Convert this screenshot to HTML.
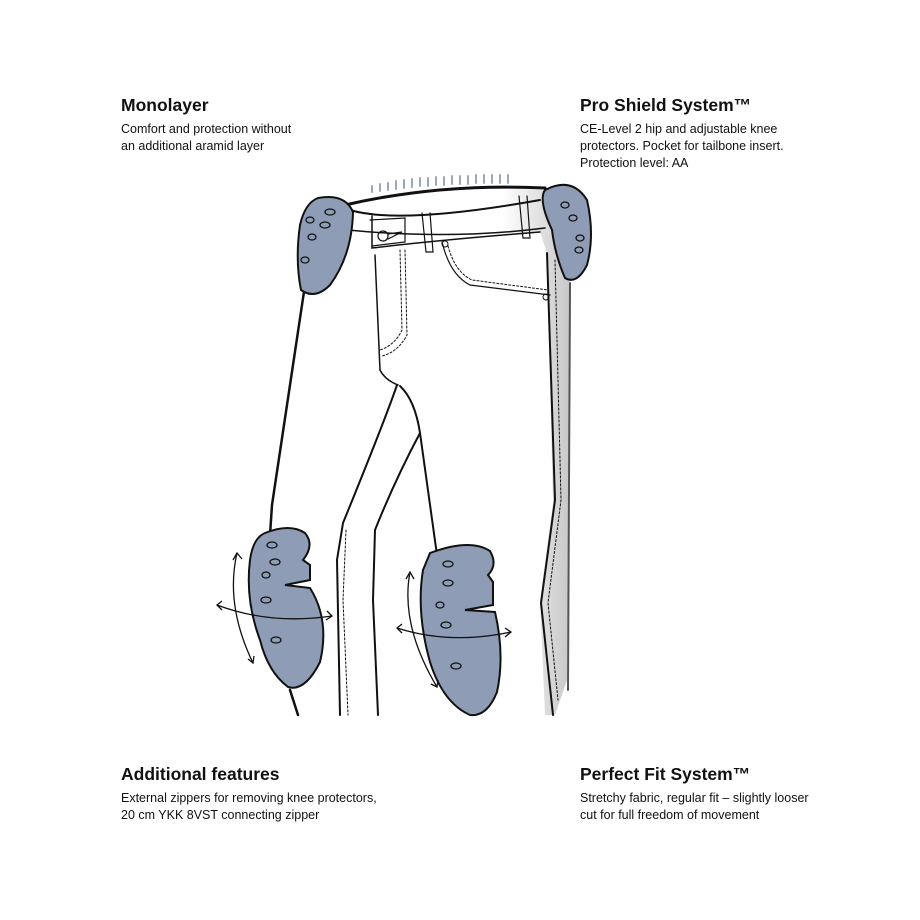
<!DOCTYPE html>
<html><head><meta charset="utf-8"><style>
html,body{margin:0;padding:0;background:#fff;}
body{width:920px;height:920px;position:relative;overflow:hidden;font-family:"Liberation Sans",sans-serif;color:#111;}
.t{position:absolute;}
.t h{display:block;font-weight:bold;font-size:17.5px;line-height:20px;}
.t p{margin:6px 0 0;font-size:12.5px;line-height:17px;}
svg{position:absolute;left:0;top:0;}
</style></head><body>
<svg width="920" height="920" viewBox="0 0 920 920">
<defs>
<linearGradient id="g" x1="0" x2="1"><stop offset="0" stop-color="#fff"/><stop offset="0.7" stop-color="#fff"/><stop offset="1" stop-color="#c8c8c8"/></linearGradient>
</defs>
<g stroke="#111" stroke-width="2" fill="none" stroke-linecap="round">
<g stroke="#9aa7bd" stroke-width="2">
<path d="M372 192v-6M380 191v-7M388 190v-7M396 189v-8M404 188v-8M412 187v-8M420 186v-8M428 186v-8M436 185v-8M444 185v-8M452 184v-8M460 184v-8M468 184v-8M476 183v-8M484 183v-8M492 183v-8M500 183v-8M508 183v-8"/>
</g>
<path d="M305 280 L272 505 L268 690 L295 715 L345 715 L340 600 L350 520 L398 390 Z" fill="#fff" stroke="none"/>
<path d="M345 205 Q440 185 545 190 L570 283 L567 680 L555 715 L545 715 L540 600 L553 503 L547 253 L540 232 Q450 238 372 250 L380 380 Q390 390 400 384 L420 433 L437 523 L440 715 L375 715 L373 540 L392 497 L400 385 Z" fill="url(#g)" stroke="none"/>
<path d="M345 205 Q440 183 545 188" stroke-width="3"/>
<path d="M350 210 Q400 225 540 200"/>
<path d="M348 230 Q450 240 545 228" stroke-width="1.5"/>
<path d="M372 216 L372 248 Q440 240 540 232" stroke-width="1.5"/>
<path d="M370 220 L405 218 L405 242 L372 246" stroke-width="1.2"/>
<circle cx="383" cy="236" r="5" stroke-width="1.2"/>
<path d="M388 234 L402 232 L388 239" stroke-width="1.2"/>
<path d="M422 213 L426 252 L433 252 L430 213" stroke-width="1.2"/>
<path d="M519 196 L523 238 L530 238 L527 196" stroke-width="1.2"/>
<path d="M442 242 Q450 275 470 285 L550 295" stroke-width="1.2"/>
<path d="M448 246 Q455 272 472 280 L548 290" stroke-width="1" stroke-dasharray="2 2"/>
<circle cx="445" cy="244" r="3" stroke-width="1"/>
<circle cx="546" cy="297" r="3" stroke-width="1"/>
<path d="M375 255 L380 370 Q385 380 398 385" stroke-width="1.5"/>
<path d="M400 250 L402 330 Q395 345 380 350" stroke-width="1" stroke-dasharray="2 2"/>
<path d="M405 250 L407 335 Q398 352 382 356" stroke-width="1" stroke-dasharray="2 2"/>
<path d="M397 385 Q385 420 343 523 L337 560 L340 715" stroke-width="2"/>
<path d="M400 386 Q415 400 420 433 L437 555" stroke-width="2"/>
<path d="M420 433 Q395 480 375 530 L373 600 L378 715" stroke-width="2"/>
<path d="M346 530 L343 600 L348 715" stroke-width="1" stroke-dasharray="2 2"/>
<path d="M305 285 L272 505 L270 535" stroke-width="2.5"/>
<path d="M290 690 L298 715" stroke-width="2.5"/>
<path d="M547 253 L555 500 L541 603 L553 715" stroke-width="2"/>
<path d="M555 260 L561 500 L548 603 L558 700" stroke-width="1" stroke-dasharray="2 2"/>
<path d="M570 283 L568 690" stroke-width="2" stroke="#555"/>
</g>
<g fill="#8e9db5" stroke="#111" stroke-width="2">
<path d="M318 198 Q345 193 353 212 Q352 255 330 285 Q315 300 301 290 Q295 260 300 225 Q305 203 318 198 Z"/>
<path d="M545 190 Q572 176 587 200 Q595 235 587 265 Q577 285 565 278 Q555 255 552 230 Q538 200 545 190 Z"/>
<path d="M265 533 Q290 523 305 533 Q315 545 303 560 L310 565 L310 580 L285 585 L310 588 Q330 620 320 662 Q305 692 288 687 Q268 672 260 640 Q245 600 250 560 Q253 538 265 533 Z"/>
<path d="M430 553 Q470 538 490 551 Q498 565 488 575 L493 582 L493 605 L465 610 L495 612 Q505 655 497 692 Q487 717 470 715 Q443 703 430 662 Q416 612 423 570 Z"/>
</g>
<g fill="none" stroke="#111" stroke-width="1.3">
<ellipse cx="330" cy="212" rx="5" ry="3"/><ellipse cx="325" cy="225" rx="5" ry="3"/><ellipse cx="310" cy="220" rx="4" ry="3"/><ellipse cx="305" cy="260" rx="4" ry="3"/><ellipse cx="312" cy="237" rx="4" ry="3"/>
<ellipse cx="565" cy="205" rx="4" ry="3"/><ellipse cx="573" cy="218" rx="4" ry="3"/><ellipse cx="580" cy="238" rx="4" ry="3"/><ellipse cx="579" cy="250" rx="4" ry="3"/>
<ellipse cx="272" cy="545" rx="5" ry="3"/><ellipse cx="275" cy="562" rx="5" ry="3"/><ellipse cx="266" cy="575" rx="4" ry="3"/><ellipse cx="266" cy="600" rx="5" ry="3"/><ellipse cx="276" cy="640" rx="5" ry="3"/>
<ellipse cx="448" cy="564" rx="5" ry="3"/><ellipse cx="448" cy="583" rx="5" ry="3"/><ellipse cx="440" cy="605" rx="4" ry="3"/><ellipse cx="446" cy="625" rx="5" ry="3"/><ellipse cx="456" cy="666" rx="5" ry="3"/>
</g>
<g fill="none" stroke="#111" stroke-width="1.3">
<path d="M237 553 Q225 605 253 663"/><path d="M233 560 L237 553 L242 559M248 659 L253 663 L254 656"/>
<path d="M217 605 Q270 625 332 616"/><path d="M222 601 L217 605 L222 610M327 611 L332 616 L326 620"/>
<path d="M410 572 Q400 625 437 687"/><path d="M406 579 L410 572 L414 579M431 684 L437 687 L438 680"/>
<path d="M397 628 Q450 645 511 632"/><path d="M402 624 L397 628 L402 633M505 628 L511 632 L505 637"/>
</g>
</svg>
<div class="t" style="left:121px;top:95px"><h>Monolayer</h><p>Comfort and protection without<br>an additional aramid layer</p></div>
<div class="t" style="left:580px;top:95px"><h>Pro Shield System™</h><p>CE-Level 2 hip and adjustable knee<br>protectors. Pocket for tailbone insert.<br>Protection level: AA</p></div>
<div class="t" style="left:121px;top:764px"><h>Additional features</h><p>External zippers for removing knee protectors,<br>20 cm YKK 8VST connecting zipper</p></div>
<div class="t" style="left:580px;top:764px"><h>Perfect Fit System™</h><p>Stretchy fabric, regular fit – slightly looser<br>cut for full freedom of movement</p></div>
</body></html>
